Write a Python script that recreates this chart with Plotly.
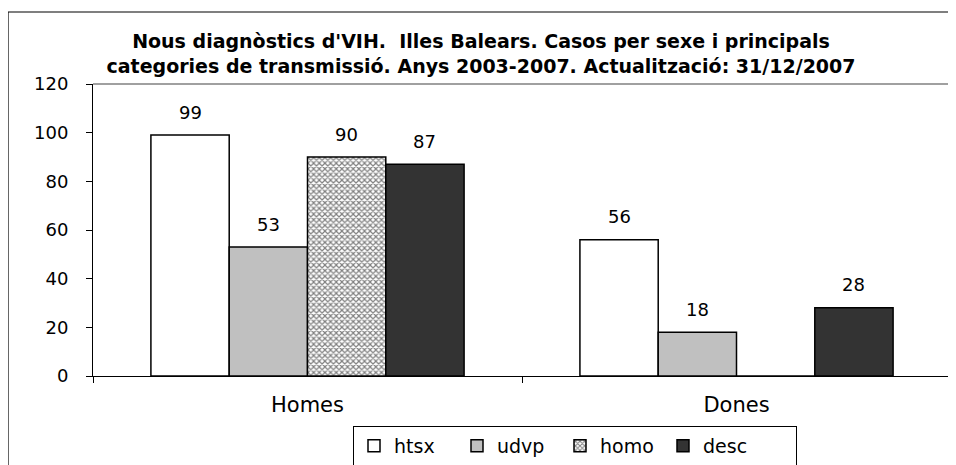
import plotly.graph_objects as go

categories = ["Homes", "Dones"]
series_names = ["htsx", "udvp", "homo", "desc"]
htsx = [99, 56]
udvp = [53, 18]
homo = [90, 0]
desc = [87, 28]

values = [htsx, udvp, homo, desc]
colors = ["#ffffff", "#c0c0c0", "#ffffff", "#333333"]

# The page body adds an 8px offset; all pixel positions below are figure coords
OFF = 8
W, H = 956, 465
L, T = 93 - OFF, 84 - OFF
R = W - (951 - OFF)
B = H - (376 - OFF)
pw, ph = W - L - R, H - T - B
BARGAP = 0.27
FONT = "DejaVu Sans, Verdana, sans-serif"

def px_x(p):  # screen px -> paper
    return (p - OFF - L) / pw

def px_y(p):
    return (H - B - (p - OFF)) / ph

fig = go.Figure()
for idx, (name, vals, col) in enumerate(zip(series_names, values, colors)):
    kw = {}
    if name == "homo":
        kw = dict(pattern=dict(shape="x", size=4, solidity=0.5, fgcolor="#000000", bgcolor="#ffffff"))
    extra = {}
    if idx == len(series_names) - 1:
        extra = dict(legendwidth=88)
    fig.add_trace(go.Bar(
        name=name, x=categories, y=vals,
        marker=dict(color=col, line=dict(color="#000000", width=1.5), **kw),
        **extra,
    ))

# value labels above bars
nser = len(series_names)
bw = (1 - BARGAP) / nser
annotations = []
for k, vals in enumerate(values):
    for i, v in enumerate(vals):
        if not v:
            continue
        annotations.append(dict(
            x=i + (k - (nser - 1) / 2) * bw, y=v, xref="x", yref="y",
            text=str(v), showarrow=False, yanchor="middle", yshift=23,
            font=dict(size=18, family=FONT, color="#000000"),
        ))

fig.update_layout(
    width=W, height=H,
    margin=dict(l=L, r=R, t=T, b=B, autoexpand=False),
    paper_bgcolor="#ffffff", plot_bgcolor="#ffffff",
    font=dict(family=FONT, size=17, color="#000000"),
    barmode="group", bargap=BARGAP, bargroupgap=0,
    showlegend=True,
    annotations=annotations,
    title=dict(
        text="<b>Nous diagnòstics d'VIH.  Illes Balears. Casos per sexe i principals<br>categories de transmissió. Anys 2003-2007. Actualització: 31/12/2007</b>",
        x=px_x(481), xref="paper", xanchor="center",
        y=1 - 40 / H, yref="container", yanchor="middle",
        font=dict(size=19, family=FONT),
    ),
    legend=dict(
        orientation="h", x=px_x(353), xanchor="left",
        y=1 - (426 - OFF) / H, yref="container", yanchor="top",
        bordercolor="#000000", borderwidth=1, font=dict(size=19, family=FONT),
        itemwidth=30, entrywidth=58, entrywidthmode="pixels", traceorder="normal",
    ),
    yaxis=dict(
        range=[0, 120], dtick=20, showgrid=False, zeroline=False,
        showline=True, linecolor="#000000", linewidth=1,
        ticks="outside", ticklen=6, tickcolor="#000000",
        tickfont=dict(size=18), ticklabelstandoff=14,
    ),
    xaxis=dict(
        showgrid=False, showline=True, linecolor="#000000", linewidth=1,
        ticks="outside", ticklen=6, tickcolor="#000000", tickson="boundaries",
        tickfont=dict(size=21), ticklabelstandoff=10,
    ),
    shapes=[
        dict(type="line", xref="paper", yref="paper", x0=0, x1=1, y0=1, y1=1,
             line=dict(color="#808080", width=1.5)),
        dict(type="line", xref="paper", yref="paper", x0=1, x1=1, y0=0, y1=1,
             line=dict(color="#808080", width=1.5)),
        dict(type="rect", xref="paper", yref="paper",
             x0=px_x(8), x1=px_x(1000), y0=px_y(520), y1=px_y(12),
             line=dict(color="#000000", width=1.2), layer="below"),
    ],
)

fig.write_html("out.html")
